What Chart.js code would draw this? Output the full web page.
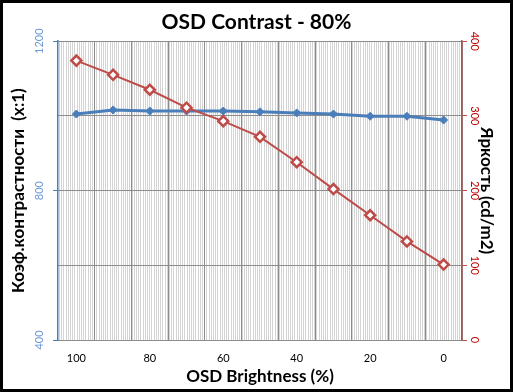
<!DOCTYPE html>
<html>
<head>
<meta charset="utf-8">
<script src="https://cdn.jsdelivr.net/npm/chart.js@4/dist/chart.umd.min.js"></script>
<style>
  html, body { margin: 0; padding: 0; background: #fff; }
  #wrap { width: 513px; height: 392px; box-sizing: border-box; border: 3px solid #000; }
  #chart { display: block; }
</style>
</head>
<body>
<div id="wrap"><canvas id="chart" width="507" height="386"></canvas></div>
<script>
// data
var categories = ['100', '90', '80', '70', '60', '50', '40', '30', '20', '10', '0'];
var contrast = [1005, 1016, 1013, 1013, 1013, 1011, 1008, 1005, 999, 999, 989];
var brightness = [374, 355, 335, 311, 293, 272, 238, 202, 167, 132, 101];
var contrastTicks = { min: 400, max: 1200, step: 400 };
var brightnessTicks = { min: 0, max: 400, step: 100 };

var FONT = 'Lato, "Noto Sans", sans-serif';
var BLUE = '#4A7EBB';
var RED = '#BE4B48';
var GRID = '#8C8C8C';

// thin vertical hatching behind the plot
var stripes = {
  id: 'stripes',
  beforeDraw: function(chart) {
    var a = chart.chartArea, ctx = chart.ctx;
    ctx.save();
    ctx.fillStyle = '#D4D4D4';
    for (var x = a.left + 1; x < a.right; x += 2.2) {
      ctx.fillRect(Math.round(x), a.top, 1, a.bottom - a.top);
    }
    ctx.restore();
  }
};

// rotated tick labels on both value axes
var sideLabels = {
  id: 'sideLabels',
  afterDraw: function(chart) {
    var ctx = chart.ctx;
    ctx.save();
    ctx.font = '11px ' + FONT;
    ctx.textAlign = 'center';
    ctx.textBaseline = 'middle';
    chart.scales.y.ticks.forEach(function(t) {
      var py = chart.scales.y.getPixelForValue(t.value);
      ctx.save();
      ctx.translate(36, py);
      ctx.rotate(-Math.PI / 2);
      ctx.fillStyle = '#6C98D8';
      ctx.fillText(String(t.value), 0, 0);
      ctx.restore();
    });
    chart.scales.y1.ticks.forEach(function(t) {
      var py = chart.scales.y1.getPixelForValue(t.value);
      ctx.save();
      ctx.translate(472, py);
      ctx.rotate(Math.PI / 2);
      ctx.fillStyle = '#C00000';
      ctx.fillText(String(t.value), 0, 0);
      ctx.restore();
    });
    ctx.restore();
  }
};

new Chart(document.getElementById('chart'), {
  type: 'line',
  data: {
    labels: categories,
    datasets: [
      {
        label: 'Яркость',
        data: brightness,
        yAxisID: 'y1',
        order: 0,
        borderColor: RED,
        borderWidth: 2,
        pointStyle: 'rectRot',
        pointRadius: 5,
        pointBorderWidth: 2.5,
        pointBackgroundColor: '#fff',
        pointBorderColor: RED
      },
      {
        label: 'Коэф.контрастности',
        data: contrast,
        yAxisID: 'y',
        order: 1,
        borderColor: BLUE,
        borderWidth: 3,
        pointStyle: 'rectRot',
        pointRadius: 4,
        pointBackgroundColor: BLUE,
        pointBorderColor: BLUE,
        pointBorderWidth: 1
      }
    ]
  },
  options: {
    responsive: false,
    animation: false,
    layout: { padding: 0 },
    plugins: {
      legend: { display: false },
      tooltip: { enabled: false },
      title: {
        display: true,
        text: 'OSD Contrast - 80%',
        color: '#000',
        font: { family: FONT, size: 21, weight: 'bold' },
        padding: { top: 7, bottom: 6 }
      }
    },
    scales: {
      x: {
        offset: true,
        grid: { offset: true, color: GRID, drawTicks: false },
        border: { color: GRID },
        afterFit: function(s) { s.height = 49; },
        ticks: {
          autoSkip: false,
          maxRotation: 0,
          padding: 12,
          color: '#000',
          font: { family: FONT, size: 11 },
          callback: function(v, i) { return i % 2 === 0 ? categories[i] : ''; }
        },
        title: {
          display: true,
          text: 'OSD Brightness (%)',
          color: '#000',
          font: { family: FONT, size: 17, weight: 'bold' },
          padding: { top: 0, bottom: 2 }
        }
      },
      y: {
        position: 'left',
        min: contrastTicks.min,
        max: contrastTicks.max,
        afterFit: function(s) { s.width = 55; },
        ticks: { stepSize: contrastTicks.step, display: false },
        grid: { drawOnChartArea: false, tickLength: 5, tickColor: BLUE },
        border: { color: BLUE, width: 1.5 },
        title: {
          display: true,
          text: 'Коэф.контрастности  (x:1)',
          color: '#000',
          font: { family: FONT, size: 17, weight: 'bold' },
          padding: { top: 5, bottom: 0 }
        }
      },
      y1: {
        position: 'right',
        min: brightnessTicks.min,
        max: brightnessTicks.max,
        afterFit: function(s) { s.width = 48; },
        ticks: { stepSize: brightnessTicks.step, display: false },
        grid: { color: GRID, tickLength: 5, tickColor: RED },
        border: { color: RED, width: 1.5 },
        title: {
          display: true,
          text: 'Яркость (cd/m2)',
          color: '#000',
          font: { family: FONT, size: 17, weight: 'bold' },
          padding: { top: 13, bottom: 0 }
        }
      }
    }
  },
  plugins: [stripes, sideLabels]
});
</script>
</body>
</html>
